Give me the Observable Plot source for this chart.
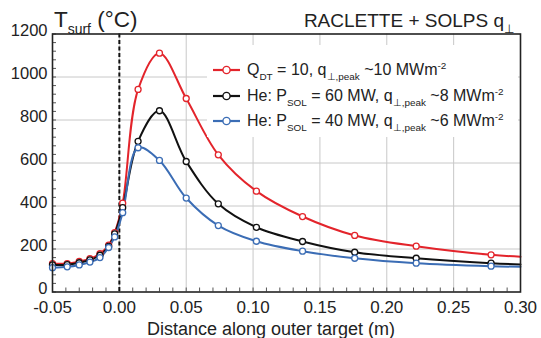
<!DOCTYPE html>
<html>
<head>
<meta charset="utf-8">
<script src="https://cdn.jsdelivr.net/npm/d3@7"></script>
<script src="https://cdn.jsdelivr.net/npm/@observablehq/plot@0.6"></script>
<style>
  html, body { margin: 0; padding: 0; background: #fff; }
  svg { display: block; }
</style>
</head>
<body>
<div id="chart"></div>
<script>
// ---- data ----
const distance = [-0.05, -0.039, -0.03, -0.022, -0.0145, -0.008, -0.0035, 0.0025, 0.014, 0.03, 0.05, 0.074, 0.1025, 0.137, 0.176, 0.222, 0.278, 0.30];
const markerCount = 17; // last value (0.30) is the curve end, without marker
const tempQDT10 = [132, 132, 142, 155, 178, 218, 276, 413, 942, 1111, 900, 638, 469, 351, 263, 213, 173, 164];
const tempHe60  = [126, 127, 136, 149, 171, 212, 270, 392, 701, 843, 607, 410, 301, 235, 185, 157, 134, 128];
const tempHe40  = [113, 117, 126, 139, 160, 207, 256, 369, 671, 612, 437, 309, 236, 190, 157, 134, 120, 117];
const seriesNames = ["QDT10", "He60", "He40"];
const seriesColors = ["#e3242b", "#111111", "#3b6db5"];
const xTicks = [-0.05, 0.00, 0.05, 0.10, 0.15, 0.20, 0.25, 0.30];
const yTicks = [0, 200, 400, 600, 800, 1000, 1200];
const xMinor = d3.range(-50, 301, 10).map(v => v / 1000);
const yMinor = d3.range(0, 1201, 40);
const legendLabels = [
  [["Q"], ["DT", "sub"], [" = 10, q"], ["\u22A5,peak", "sub"], [" ~10 MWm"], ["-2", "sup"]],
  [["He: P"], ["SOL", "sub"], [" = 60 MW, q"], ["\u22A5,peak", "sub"], [" ~8 MWm"], ["-2", "sup"]],
  [["He: P"], ["SOL", "sub"], [" = 40 MW, q"], ["\u22A5,peak", "sub"], [" ~6 MWm"], ["-2", "sup"]]
];
const titleLeft = [["T"], ["surf", "sub"], [" (\u00B0C)"]];
const titleRight = [["RACLETTE + SOLPS q"], ["\u22A5", "sub"]];
const xLabel = "Distance along outer target (m)";

// ---- build table ----
const allSeries = [tempQDT10, tempHe60, tempHe40];
const rows = [];
allSeries.forEach((vals, s) => {
  vals.forEach((v, i) => rows.push({series: seriesNames[s], x: distance[i], y: v, marker: i < markerCount}));
});

const W = 541, H = 338, mL = 52, mR = 21, mT = 33.5, mB = 46.5;
const plotW = W - mL - mR, plotH = H - mT - mB;
const font = "'Liberation Sans', Arial, sans-serif";

const lineMarks = seriesNames.map((name, s) =>
  Plot.line(rows.filter(d => d.series === name), {x: "x", y: "y", stroke: seriesColors[s], strokeWidth: 2, curve: "catmull-rom"}));
const dotMarks = seriesNames.map((name, s) =>
  Plot.dot(rows.filter(d => d.series === name && d.marker), {x: "x", y: "y", r: 3, stroke: seriesColors[s], fill: "white", strokeWidth: 1.3}));

const svg = Plot.plot({
  width: W, height: H,
  marginLeft: mL, marginRight: mR, marginTop: mT, marginBottom: mB,
  x: {domain: [-0.05, 0.30]},
  y: {domain: [0, 1200]},
  style: {fontFamily: font, color: "#222", background: "white"},
  marks: [
    Plot.ruleX(xTicks.slice(1, -1), {stroke: "#c8c8c8", strokeWidth: 1}),
    Plot.ruleY(yTicks.slice(1, -1), {stroke: "#c8c8c8", strokeWidth: 1}),
    Plot.tickX(xMinor, {x: d => d, insetTop: plotH - 4, stroke: "#555", strokeWidth: 1}),
    Plot.tickY(yMinor, {y: d => d, insetRight: plotW - 4, stroke: "#555", strokeWidth: 1}),
    Plot.ruleX([0], {stroke: "#111", strokeWidth: 2, strokeDasharray: "4,2.5"}),
    ...lineMarks,
    ...dotMarks,
    Plot.frame({stroke: "#222", strokeWidth: 1.6}),
    Plot.axisX({ticks: xTicks, tickSize: 0, tickPadding: 9, tickFormat: d => d.toFixed(2), label: null, fontSize: 17}),
    Plot.axisY({ticks: yTicks, tickSize: 0, tickPadding: 5, tickFormat: d => String(d), label: null, fontSize: 16.5, dy: -3})
  ]
});
document.getElementById("chart").appendChild(svg);

// ---- text with sub/superscripts ----
function richText(parent, x, y, parts, size, anchor) {
  const t = parent.append("text").attr("x", x).attr("y", y)
    .attr("font-family", font).attr("font-size", size).attr("fill", "#222")
    .attr("text-anchor", anchor || "start");
  let shift = 0;
  parts.forEach(([s, kind]) => {
    let target = 0, fs = size;
    if (kind === "sub") { target = size * 0.3; fs = size * 0.62; }
    if (kind === "sup") { target = -size * 0.4; fs = size * 0.62; }
    t.append("tspan").attr("dy", target - shift).attr("font-size", fs).text(s);
    shift = target;
  });
  return t;
}

const root = d3.select(svg);

// legend (white box over grid)
const lg = root.append("g");
lg.append("rect").attr("x", 207).attr("y", 45).attr("width", 311).attr("height", 92).attr("fill", "white");
[70, 96, 121].forEach((yy, i) => {
  lg.append("line").attr("x1", 213).attr("x2", 240).attr("y1", yy).attr("y2", yy)
    .attr("stroke", seriesColors[i]).attr("stroke-width", 2.2);
  lg.append("circle").attr("cx", 226.5).attr("cy", yy).attr("r", 3.6)
    .attr("fill", "white").attr("stroke", seriesColors[i]).attr("stroke-width", 1.4);
  richText(lg, 247, yy + 5, legendLabels[i], 16);
});

// titles
richText(root, 54, 27, titleLeft, 22.5);
richText(root, 514, 27, titleRight, 19, "end");
root.append("text").attr("x", 271).attr("y", 335).attr("text-anchor", "middle")
  .attr("font-family", font).attr("font-size", 18).attr("fill", "#222").text(xLabel);
</script>
</body>
</html>
